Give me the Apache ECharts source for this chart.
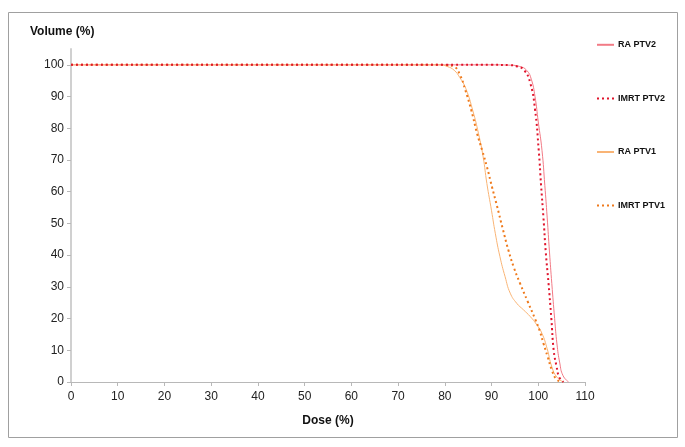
<!DOCTYPE html>
<html>
<head>
<meta charset="utf-8">
<script src="https://cdn.jsdelivr.net/npm/echarts@6/dist/echarts.min.js"></script>
<style>
  html, body { margin: 0; padding: 0; background: #fff; }
  #chart { width: 685px; height: 447px; }
</style>
</head>
<body>
<div id="chart"></div>
<script>
// dose (%) / volume (%) pairs
var raPtv2Dose = [0, 20, 40, 60, 80, 90, 94, 96, 97.5, 98.5, 99.3, 100, 100.8, 101.4, 101.9, 102.4, 102.9, 103.5, 104, 104.6, 105.3, 106.5]
var raPtv2Vol = [100, 100, 100, 100, 100, 100, 99.9, 99.5, 98.3, 95.5, 90, 82, 73, 62, 52, 41, 31, 20, 12, 6, 2, 0]

var imrtPtv2Dose = [0, 20, 40, 60, 80, 90, 94, 95.5, 97, 98.3, 99.3, 100.1, 100.6, 101.1, 101.6, 102.2, 102.8, 103.3, 103.9, 104.5, 105.4]
var imrtPtv2Vol = [100, 100, 100, 100, 100, 100, 99.9, 99.5, 98.3, 94.2, 86, 73, 62, 52, 41, 31, 20, 10, 5, 1.5, 0]

var raPtv1Dose = [0, 20, 40, 60, 75, 79, 80.5, 82, 83.2, 84.5, 86, 87.2, 88.2, 89, 90, 90.8, 91.8, 92.9, 94, 95.4, 96.8, 98.3, 99.6, 100.8, 101.9, 102.9, 104, 105.4]
var raPtv1Vol = [100, 100, 100, 100, 100, 100, 99.5, 98.3, 96, 92.5, 85.5, 78.4, 71, 62.6, 54, 46.9, 39.5, 33.2, 28, 24.8, 22.8, 20.6, 18.2, 15.3, 10.5, 4.8, 1.5, 0]

var imrtPtv1Dose = [0, 20, 40, 60, 75, 79, 80.5, 81.9, 83.2, 84.4, 85.7, 86.9, 88, 89, 90.1, 91.2, 92.4, 93.6, 94.8, 96.1, 97.7, 99.4, 100.3, 101.1, 102, 102.9, 103.8, 104.9]
var imrtPtv1Vol = [100, 100, 100, 100, 100, 100, 99.9, 99.5, 97, 92, 85.5, 78.4, 73, 67.9, 61.5, 55.3, 48.3, 41.6, 36, 31.1, 25.5, 19.6, 16.2, 12.2, 8, 3.8, 1, 0]

var seriesNames = ['RA PTV2', 'IMRT PTV2', 'RA PTV1', 'IMRT PTV1']
var yTicks = [0, 10, 20, 30, 40, 50, 60, 70, 80, 90, 100]

function pairs(xs, ys) {
  return xs.map(function(x, i) { return [x, ys[i]] })
}

var chart = echarts.init(document.getElementById('chart'))
var font = 'Liberation Sans, Arial, sans-serif'

function curve(name, xs, ys, color, width, dash, z) {
  return {
    name: name,
    type: 'line',
    symbol: 'none',
    smooth: 0.5,
    z: z,
    lineStyle: { color: color, width: width, type: dash },
    itemStyle: { color: color },
    data: pairs(xs, ys)
  }
}

chart.setOption({
  animation: false,
  textStyle: { fontFamily: font },
  title: {
    text: 'Volume (%)',
    left: 25,
    top: 21,
    textStyle: { fontFamily: font, fontSize: 12, fontWeight: 'bold', color: '#111' }
  },
  graphic: [{
    type: 'rect',
    shape: { x: 8.5, y: 12.5, width: 669, height: 425 },
    style: { fill: 'none', stroke: '#a0a0a0', lineWidth: 1 },
    silent: true
  }],
  legend: {
    orient: 'vertical',
    left: 591,
    top: 35,
    itemGap: 44,
    itemWidth: 17,
    itemHeight: 12,
    itemStyle: { opacity: 0 },
    data: seriesNames,
    textStyle: { fontFamily: font, fontSize: 9, fontWeight: 'bold', color: '#111', padding: [0, 0, 0, -1] }
  },
  grid: { left: 71, right: 100, top: 49, bottom: 65 },
  xAxis: {
    type: 'value',
    min: 0,
    max: 110,
    interval: 10,
    name: 'Dose (%)',
    nameLocation: 'middle',
    nameGap: 33,
    nameTextStyle: { fontFamily: font, fontSize: 12, fontWeight: 'bold', color: '#111' },
    splitLine: { show: false },
    axisLine: { lineStyle: { color: '#b8b8b8', width: 1 } },
    axisTick: { length: 4, lineStyle: { color: '#b8b8b8' } },
    axisLabel: { fontSize: 12, color: '#222', margin: 9 }
  },
  yAxis: {
    type: 'value',
    min: 0,
    max: 105,
    splitLine: { show: false },
    axisLine: { show: true, onZero: false, lineStyle: { color: '#d0d0d0', width: 2 } },
    axisTick: { show: true, length: 4, customValues: yTicks, lineStyle: { color: '#b8b8b8' } },
    axisLabel: { fontSize: 12, color: '#222', margin: 7, customValues: yTicks }
  },
  series: [
    curve('RA PTV2', raPtv2Dose, raPtv2Vol, '#f27b86', 1, 'solid', 2),
    curve('IMRT PTV2', imrtPtv2Dose, imrtPtv2Vol, '#e0142c', 2, [2, 3], 4),
    curve('RA PTV1', raPtv1Dose, raPtv1Vol, '#f9b475', 1, 'solid', 2),
    curve('IMRT PTV1', imrtPtv1Dose, imrtPtv1Vol, '#ef7a1c', 2, [2, 3], 3)
  ]
})
</script>
</body>
</html>
